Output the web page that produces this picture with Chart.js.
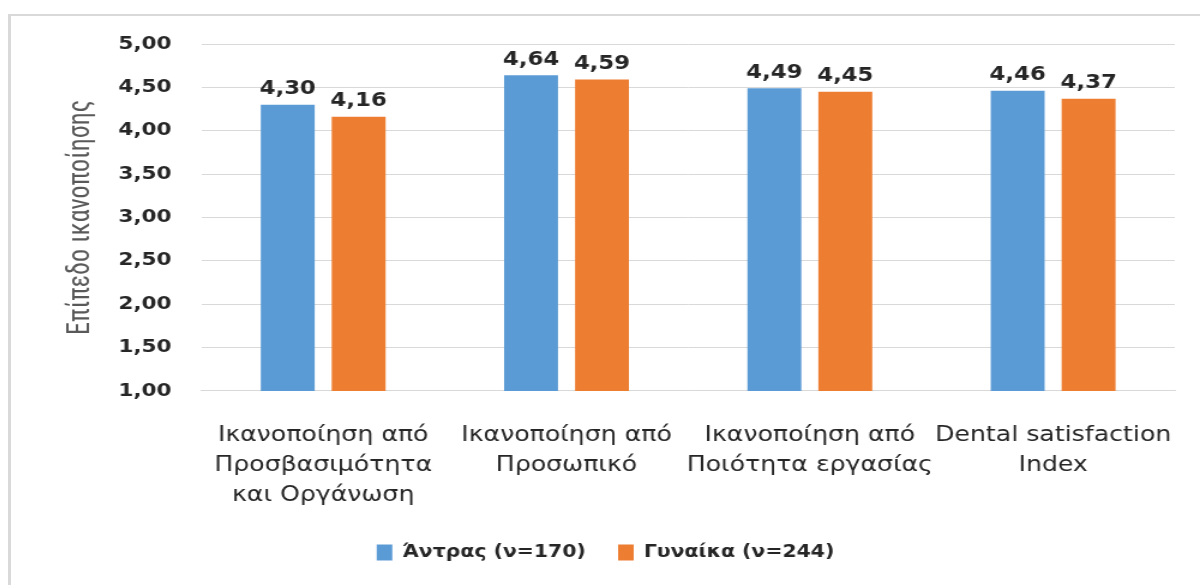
<!DOCTYPE html>
<html>
<head>
<meta charset="utf-8">
<script src="https://cdn.jsdelivr.net/npm/chart.js@4/dist/chart.umd.min.js"></script>
<style>
  html, body { margin: 0; padding: 0; background: #fff; }
  #frame {
    position: absolute; left: 8px; top: 14px; width: 1189px; height: 569px;
    border-left: 3px solid #d9d9d9; border-top: 2px solid #d9d9d9;
  }
  /* the chart is laid out narrower and shown stretched sideways */
  #frame canvas { display: block; width: 1189px; height: 569px; }
</style>
</head>
<body>
<div id="frame"><canvas id="myChart" width="991" height="569" style="width:1189px;height:569px"></canvas></div>
<script>
let labels = [
    ["Ικανοποίηση από", "Προσβασιμότητα", "και Οργάνωση"],
    ["Ικανοποίηση από", "Προσωπικό"],
    ["Ικανοποίηση από", "Ποιότητα εργασίας"],
    ["Dental satisfaction", "Index"]
];
let menLabel = "Άντρας (ν=170)";
let womenLabel = "Γυναίκα (ν=244)";
let menData = [4.30, 4.64, 4.49, 4.46];
let womenData = [4.16, 4.59, 4.45, 4.37];
let yTicks = [1.00, 1.50, 2.00, 2.50, 3.00, 3.50, 4.00, 4.50, 5.00];
let backgroundColor = ["#5b9bd5", "#ed7d31"];

const FONT = "'DejaVu Sans', Verdana, sans-serif";

function fmt(v) {
    return v.toFixed(2).replace(".", ",");
}

// writes the value over each bar
const valueLabels = {
    id: "valueLabels",
    afterDatasetsDraw(chart) {
        const ctx = chart.ctx;
        ctx.save();
        ctx.font = "bold 19px " + FONT;
        ctx.fillStyle = "#262626";
        ctx.textAlign = "center";
        ctx.textBaseline = "bottom";
        chart.data.datasets.forEach((ds, i) => {
            chart.getDatasetMeta(i).data.forEach((bar, j) => {
                ctx.fillText(fmt(ds.data[j]), bar.x, bar.y - 6);
            });
        });
        ctx.restore();
    }
};

new Chart(document.getElementById("myChart"), {
    type: "bar",
    data: {
        labels: labels,
        datasets: [
            { label: menLabel, backgroundColor: backgroundColor[0], data: menData },
            { label: womenLabel, backgroundColor: backgroundColor[1], data: womenData }
        ]
    },
    options: {
        responsive: false,
        animation: false,
        devicePixelRatio: 1,
        datasets: { bar: { categoryPercentage: 0.583, barPercentage: 0.76 } },
        layout: { padding: { top: 28, right: 21, left: 21, bottom: 14 } },
        plugins: {
            title: { display: false },
            tooltip: { enabled: false },
            legend: {
                position: "bottom",
                labels: {
                    boxWidth: 13, boxHeight: 16, padding: 27,
                    color: "#262626",
                    font: { family: FONT, size: 17, weight: "bold" }
                }
            }
        },
        scales: {
            x: {
                // invisible tick marks keep the labels clear of the axis line
                grid: { drawOnChartArea: false, tickLength: 24, tickColor: "rgba(0,0,0,0)" },
                border: { color: "#d9d9d9" },
                ticks: {
                    color: "#262626", padding: 6, maxRotation: 0, autoSkip: false,
                    font: { family: FONT, size: 21, lineHeight: 1.43 }
                }
            },
            y: {
                min: 1, max: 5,
                afterBuildTicks(axis) { axis.ticks = yTicks.map(v => ({ value: v })); },
                grid: { color: "#d9d9d9", tickColor: "rgba(0,0,0,0)", tickLength: 20 },
                border: { display: false },
                title: {
                    display: true, text: "Επίπεδο ικανοποίησης", color: "#595959",
                    font: { family: "'Liberation Sans Narrow', 'Roboto Condensed', 'Liberation Sans', sans-serif", size: 26, lineHeight: 0.9 },
                    padding: { top: 26, bottom: 14 }
                },
                ticks: {
                    color: "#262626", padding: 5,
                    font: { family: FONT, size: 18, weight: "bold" },
                    callback: v => fmt(v)
                }
            }
        }
    },
    plugins: [valueLabels]
});
</script>
</body>
</html>
